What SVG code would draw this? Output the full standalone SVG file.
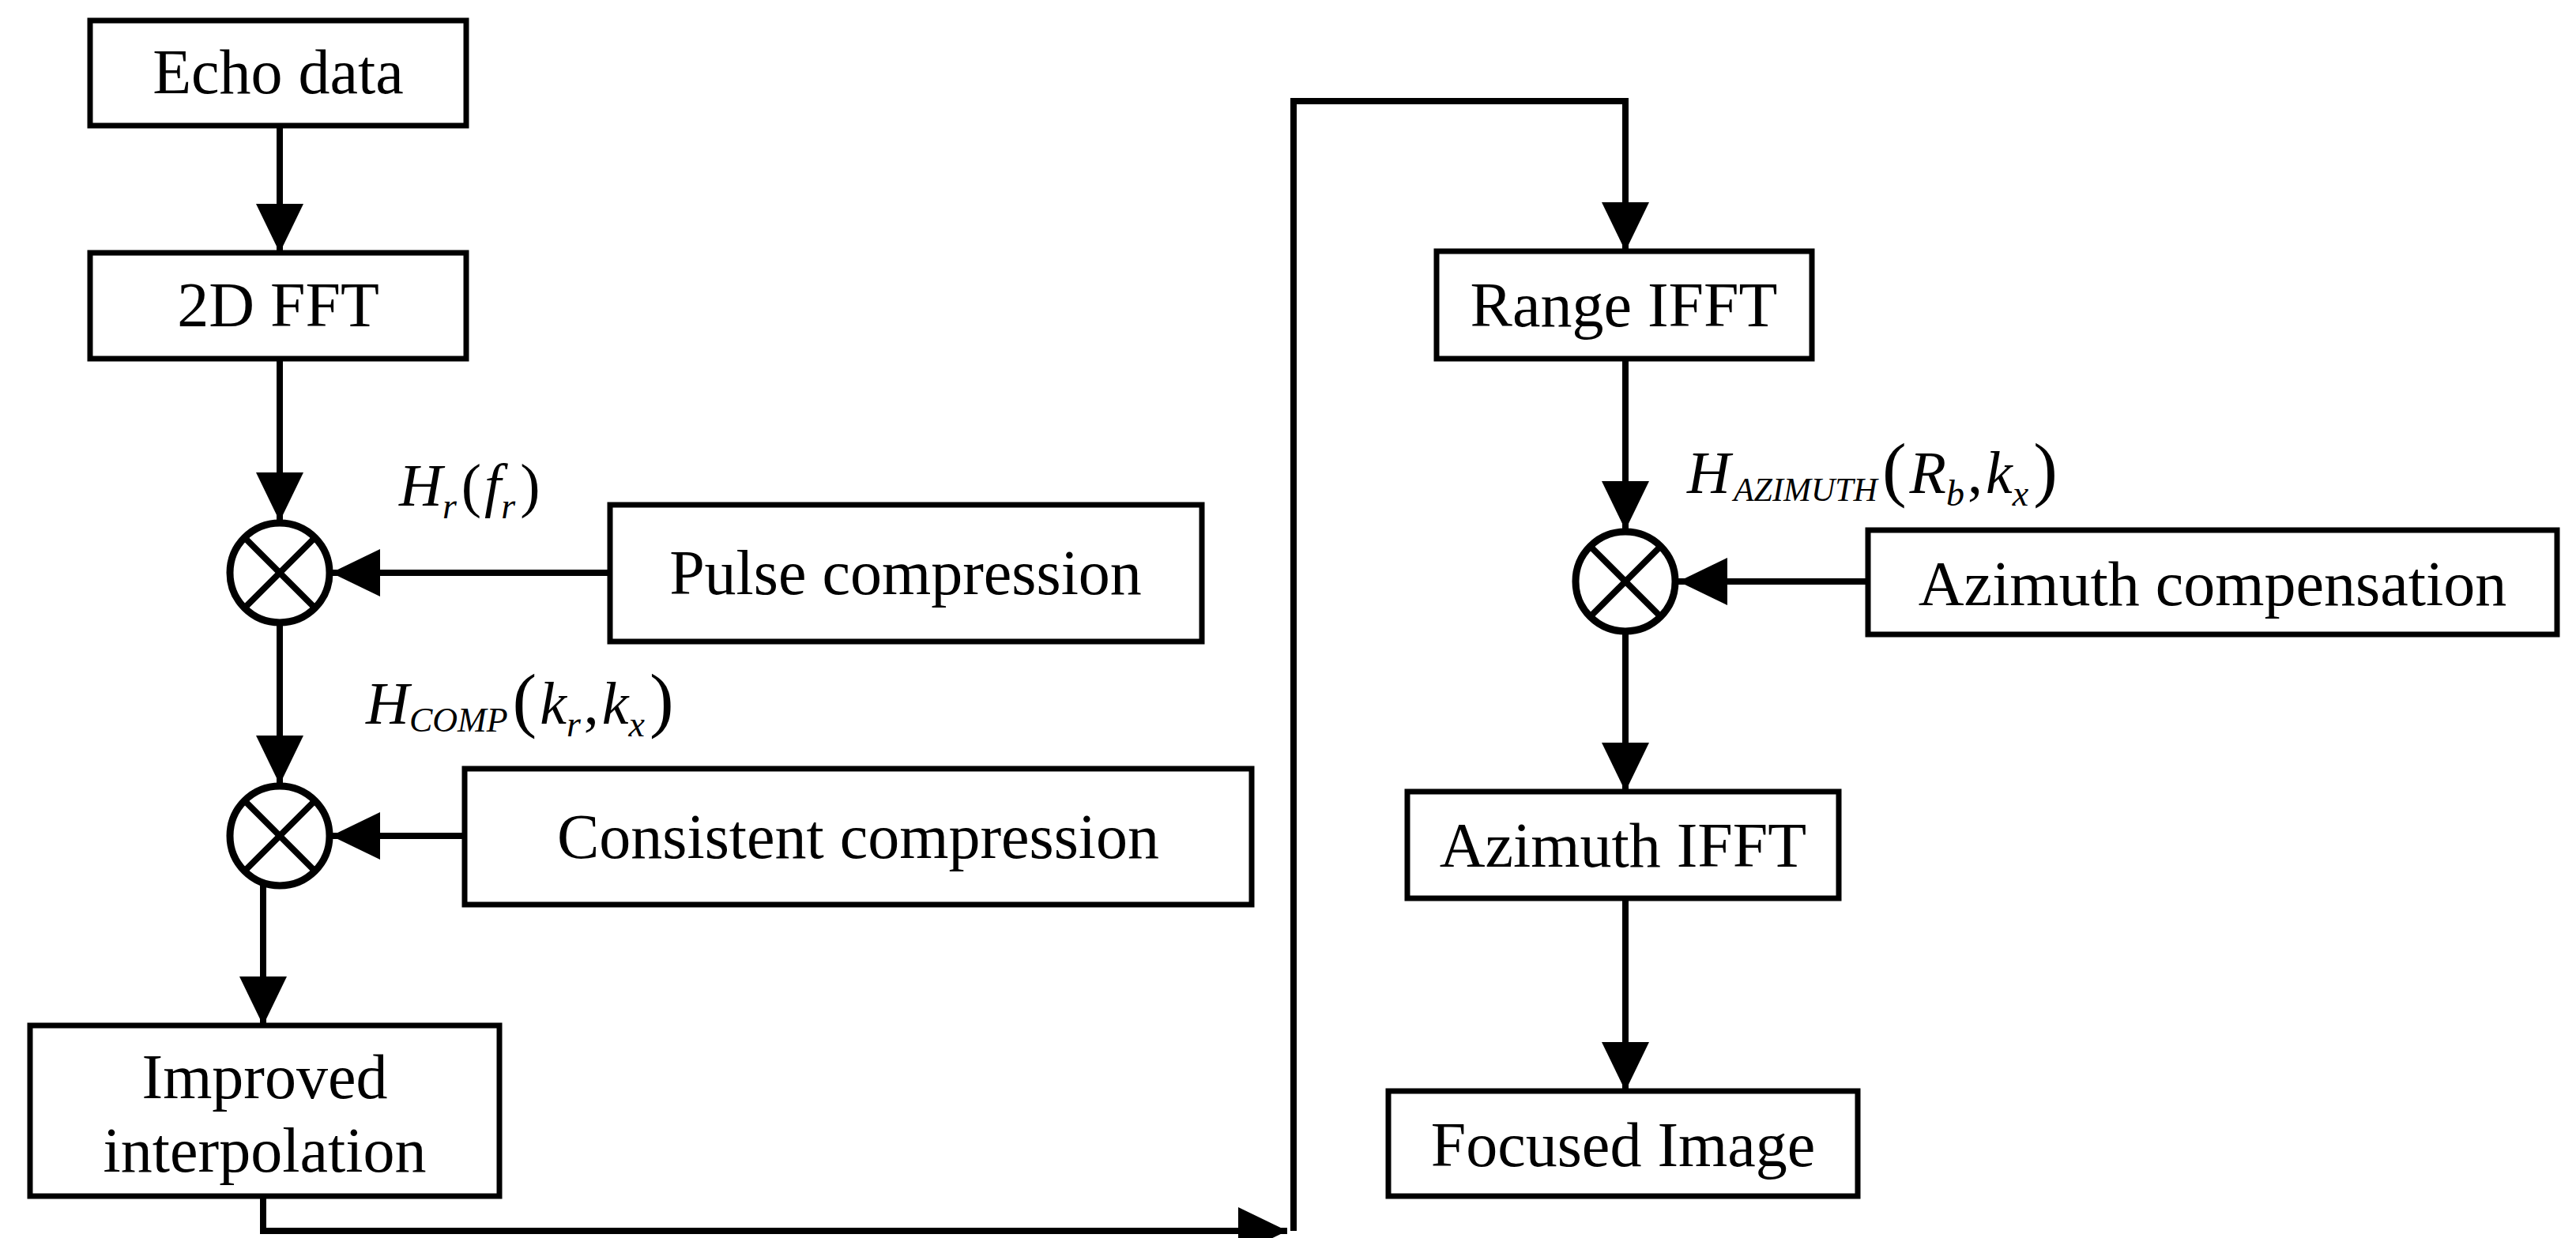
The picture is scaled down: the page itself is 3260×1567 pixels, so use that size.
<svg xmlns="http://www.w3.org/2000/svg" width="3260" height="1567" viewBox="0 0 3260 1567">
<style>
.box{fill:#fff;stroke:#000;stroke-width:7}
.t{font-family:"Liberation Serif",serif;font-size:80px;text-anchor:middle;fill:#000}
.m{font-family:"Liberation Serif",serif;font-size:76px;font-style:italic;fill:#000}
.ln{fill:none;stroke:#000;stroke-width:8}
.x{fill:#fff;stroke:#000;stroke-width:9}
</style>
<defs>
<marker id="a" markerUnits="userSpaceOnUse" markerWidth="64" markerHeight="60" refX="62" refY="30" orient="auto">
<path d="M0,0 L62,30 L0,60 Z" fill="#000"/>
</marker>
</defs>
<rect width="3260" height="1567" fill="#fff"/>
<g id="connectors">
<line class="ln" x1="354" y1="159" x2="354" y2="320" marker-end="url(#a)"/>
<line class="ln" x1="354" y1="454" x2="354" y2="660" marker-end="url(#a)"/>
<line class="ln" x1="354" y1="790" x2="354" y2="993" marker-end="url(#a)"/>
<line class="ln" x1="333" y1="1120" x2="333" y2="1298" marker-end="url(#a)"/>
<line class="ln" x1="772" y1="725" x2="419" y2="725" marker-end="url(#a)"/>
<line class="ln" x1="588" y1="1058" x2="419" y2="1058" marker-end="url(#a)"/>
<polyline class="ln" points="333,1514 333,1558 1629,1558" marker-end="url(#a)"/>
<polyline class="ln" points="1637,1558 1637,128 2057,128 2057,318" marker-end="url(#a)"/>
<line class="ln" x1="2057" y1="454" x2="2057" y2="671" marker-end="url(#a)"/>
<line class="ln" x1="2364" y1="736" x2="2124" y2="736" marker-end="url(#a)"/>
<line class="ln" x1="2057" y1="801" x2="2057" y2="1002" marker-end="url(#a)"/>
<line class="ln" x1="2057" y1="1137" x2="2057" y2="1381" marker-end="url(#a)"/>
</g>
<g id="echo"><rect class="box" x="114" y="26" width="476" height="133"/><text class="t" x="352" y="118">Echo data</text></g>
<g id="fft2d"><rect class="box" x="114" y="320" width="476" height="134"/><text class="t" x="352" y="413">2D FFT</text></g>
<g id="mult1"><circle class="x" cx="354" cy="725" r="63"/><path class="ln" d="M310,681 L398,769 M398,681 L310,769"/></g>
<g id="pulse"><rect class="box" x="772" y="639" width="749" height="173"/><text class="t" x="1146" y="752">Pulse compression</text></g>
<g id="lbl1"><text class="m" x="505" y="640">H<tspan font-size="46" dy="16">r</tspan><tspan font-style="normal" dy="-16" dx="6">(</tspan><tspan dx="4">f</tspan><tspan font-size="46" dy="16">r</tspan><tspan font-style="normal" dy="-16" dx="6">)</tspan></text></g>
<g id="mult2"><circle class="x" cx="354" cy="1058" r="63"/><path class="ln" d="M310,1014 L398,1102 M398,1014 L310,1102"/></g>
<g id="consistent"><rect class="box" x="588" y="973" width="996" height="172"/><text class="t" x="1086" y="1086">Consistent compression</text></g>
<g id="lbl2"><text class="m" x="463" y="916">H<tspan font-size="44" dy="10">COMP</tspan><tspan font-style="normal" font-size="92" dy="-10" dx="6">(</tspan><tspan dx="4">k</tspan><tspan font-size="46" dy="16">r</tspan><tspan font-style="normal" dy="-16" dx="4">,</tspan><tspan dx="4">k</tspan><tspan font-size="46" dy="16">x</tspan><tspan font-style="normal" font-size="92" dy="-16" dx="6">)</tspan></text></g>
<g id="lbl3"><text class="m" x="2135" y="624">H<tspan font-size="42" dy="10" dx="4">AZIMUTH</tspan><tspan font-style="normal" font-size="92" dy="-10" dx="6">(</tspan><tspan dx="4">R</tspan><tspan font-size="46" dy="16">b</tspan><tspan font-style="normal" dy="-16" dx="4">,</tspan><tspan dx="4">k</tspan><tspan font-size="46" dy="16">x</tspan><tspan font-style="normal" font-size="92" dy="-16" dx="6">)</tspan></text></g>
<g id="rifft"><rect class="box" x="1818" y="318" width="475" height="136"/><text class="t" x="2055" y="413">Range IFFT</text></g>
<g id="mult3"><circle class="x" cx="2057" cy="736" r="63"/><path class="ln" d="M2013,692 L2101,780 M2101,692 L2013,780"/></g>
<g id="azcomp"><rect class="box" x="2364" y="671" width="872" height="132"/><text class="t" x="2800" y="766">Azimuth compensation</text></g>
<g id="aifft"><rect class="box" x="1781" y="1002" width="546" height="135"/><text class="t" x="2054" y="1097">Azimuth IFFT</text></g>
<g id="focused"><rect class="box" x="1757" y="1381" width="594" height="133"/><text class="t" x="2054" y="1476">Focused Image</text></g>
<g id="interp"><rect class="box" x="38" y="1298" width="594" height="216"/><text class="t" x="335" y="1390">Improved</text><text class="t" x="335" y="1483">interpolation</text></g>
</svg>
